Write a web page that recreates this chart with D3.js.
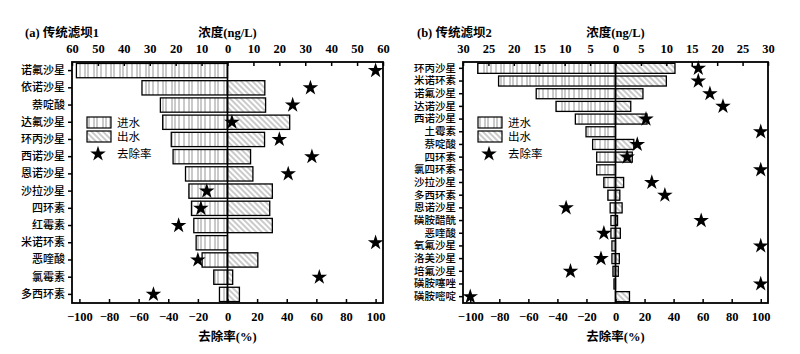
<!DOCTYPE html>
<html><head><meta charset="utf-8">
<script src="https://cdn.jsdelivr.net/npm/d3@7"></script>
<style>body{margin:0;background:#fff}svg{display:block}</style>
</head><body>
<svg id="c" width="800" height="354"></svg>
<script>
// ---------- data ----------
const catsA = ["诺氟沙星","依诺沙星","萘啶酸","达氟沙星","环丙沙星","西诺沙星","恩诺沙星","沙拉沙星","四环素","红霉素","米诺环素","恶喹酸","氯霉素","多西环素"];
const inA   = [58.3, 33.0, 25.9, 25.0, 21.7, 21.0, 16.2, 14.9, 13.9, 13.0, 12.1, 9.8, 5.3, 3.1];
const outA  = [0, 14.4, 14.7, 24.0, 14.3, 8.9, 9.8, 17.3, 16.3, 17.3, 0, 11.7, 2.0, 4.6];
const remA  = [100, 56, 44, 3, 35, 57, 41, -14, -18, -33, 100, -20, 62, -50];

const catsB = ["环丙沙星","米诺环素","诺氟沙星","达诺沙星","西诺沙星","土霉素","萘啶酸","四环素","氯四环素","沙拉沙星","多西环素","恩诺沙星","磺胺醋酰","恶喹酸","氧氟沙星","洛美沙星","培氟沙星","磺胺噻唑","磺胺嘧啶"];
const inB   = [27.1, 23.0, 15.6, 11.7, 7.9, 5.8, 4.5, 3.7, 3.7, 2.3, 1.5, 1.05, 0.9, 0.9, 0.7, 0.7, 0.5, 0.3, 0];
const outB  = [11.7, 10.0, 5.4, 3.0, 6.2, 0, 3.6, 3.3, 0, 1.6, 0.85, 1.3, 0.4, 0.95, 0, 0.75, 0.55, 0, 2.75];
const remB  = [57, 57, 65, 74, 21, 100, 15, 8, 100, 25, 34, -34, 59, -8, 100, -10, -31, 100, -100];

const concTicksA = [-60,-50,-40,-30,-20,-10,0,10,20,30,40,50,60];
const concTicksB = [-30,-25,-20,-15,-10,-5,0,5,10,15,20,25,30];
const remTicks = [-100,-80,-60,-40,-20,0,20,40,60,80,100];

const legendLabels = ["进水","出水","去除率"];

// ---------- drawing ----------
const svg = d3.select("#c");
const defs = svg.append("defs");
const pin = defs.append("pattern").attr("id","pin").attr("patternUnits","userSpaceOnUse")
  .attr("width",26).attr("height",10);
[2,7,10,16,19,23].forEach(x=>pin.append("line").attr("x1",x).attr("x2",x).attr("y1",0).attr("y2",10)
  .attr("stroke","#8a8a8a").attr("stroke-width",0.9));
const pout = defs.append("pattern").attr("id","pout").attr("patternUnits","userSpaceOnUse")
  .attr("width",4).attr("height",10).attr("patternTransform","rotate(-45)");
pout.append("line").attr("x1",1).attr("x2",1).attr("y1",0).attr("y2",10)
  .attr("stroke","#7a7a7a").attr("stroke-width",0.8);

const numFont = "'Liberation Serif','Times New Roman',serif";
const cjkFont = "'Noto Sans CJK SC','Noto Sans',sans-serif";

function panel(o){
  const g = svg.append("g");
  const x0 = o.left, x1 = o.right, y0 = 62, y1 = 303;
  const xc = d3.scaleLinear().domain([-o.cmax,o.cmax]).range([x0,x1]);
  const xr = d3.scaleLinear().domain([-105,105]).range([x0,x1]);
  const y = d3.scaleBand().domain(o.cats).range([y0,y1]).paddingInner(o.pad).paddingOuter(o.pad/2);

  // bars
  const rows = o.cats.map((c,i)=>({c, vin:o.vin[i], vout:o.vout[i], rem:o.rem[i]}));
  g.selectAll(".bin").data(rows.filter(d=>d.vin>0)).join("rect")
    .attr("x",d=>xc(-d.vin)).attr("y",d=>y(d.c)).attr("width",d=>xc(0)-xc(-d.vin)).attr("height",y.bandwidth())
    .attr("fill","url(#pin)").attr("stroke","#000").attr("stroke-width",1.3);
  g.selectAll(".bout").data(rows.filter(d=>d.vout>0)).join("rect")
    .attr("x",xc(0)).attr("y",d=>y(d.c)).attr("width",d=>xc(d.vout)-xc(0)).attr("height",y.bandwidth())
    .attr("fill","url(#pout)").attr("stroke","#000").attr("stroke-width",1.3);

  // zero line
  g.append("line").attr("x1",xc(0)).attr("x2",xc(0)).attr("y1",y0).attr("y2",y1)
    .attr("stroke","#000").attr("stroke-width",1.6);

  // stars
  g.selectAll(".st").data(rows).join("path")
    .attr("d",d3.symbol(d3.symbolStar,75))
    .attr("transform",d=>`translate(${xr(d.rem)},${y(d.c)+y.bandwidth()/2})`)
    .attr("fill","#000");

  // top axis
  const top = g.append("g").attr("transform",`translate(0,${y0})`)
    .call(d3.axisTop(xc).tickValues(o.cticks).tickFormat(d=>Math.abs(d)).tickSize(-4).tickPadding(9));
  // bottom axis
  const bot = g.append("g").attr("transform",`translate(0,${y1})`)
    .call(d3.axisBottom(xr).tickValues(remTicks).tickFormat(d=>d<0?"\u2212"+Math.abs(d):d).tickSize(-4).tickPadding(9));
  // left axis
  const lef = g.append("g").attr("transform",`translate(${x0},0)`)
    .call(d3.axisLeft(y).tickSize(4).tickPadding(3));
  [top,bot].forEach(a=>{a.select(".domain").remove();
    a.selectAll("text").attr("font-family",numFont).attr("font-weight","bold").attr("font-size",12.5).attr("fill","#000");
    a.selectAll("line").attr("stroke","#000").attr("stroke-width",1.5);});
  lef.select(".domain").remove();
  lef.selectAll("text").attr("font-family",cjkFont).attr("font-size",o.lfs).attr("font-weight",500).attr("fill","#000");
  lef.selectAll("line").attr("stroke","#000").attr("stroke-width",1.5);

  // frame
  g.append("rect").attr("x",x0).attr("y",y0).attr("width",x1-x0).attr("height",y1-y0)
    .attr("fill","none").attr("stroke","#000").attr("stroke-width",1.8);

  // titles
  const t = g.append("text").attr("x",o.tx).attr("y",37).attr("font-size",12.5).attr("font-weight","bold");
  t.append("tspan").attr("font-family",numFont).text(o.tag+" ");
  t.append("tspan").attr("font-family",cjkFont).text(o.title);
  t.append("tspan").attr("font-family",numFont).text(o.num);
  const ct = g.append("text").attr("x",xc(0)).attr("y",37).attr("text-anchor","middle").attr("font-size",12.5).attr("font-weight","bold");
  ct.append("tspan").attr("font-family",cjkFont).text("浓度");
  ct.append("tspan").attr("font-family",numFont).text("(ng/L)");
  const bt = g.append("text").attr("x",xc(0)).attr("y",341).attr("text-anchor","middle").attr("font-size",12.5).attr("font-weight","bold");
  bt.append("tspan").attr("font-family",cjkFont).text("去除率");
  bt.append("tspan").attr("font-family",numFont).text("(%)");

  // legend
  const lg = g.append("g").attr("transform",`translate(${o.lx},117)`);
  lg.append("rect").attr("x",0).attr("y",0).attr("width",24).attr("height",11)
    .attr("fill","url(#pin)").attr("stroke","#000").attr("stroke-width",1.2);
  lg.append("rect").attr("x",0).attr("y",14).attr("width",24).attr("height",11)
    .attr("fill","url(#pout)").attr("stroke","#000").attr("stroke-width",1.2);
  lg.append("path").attr("d",d3.symbol(d3.symbolStar,75)).attr("transform","translate(11,37)").attr("fill","#000");
  legendLabels.forEach((s,i)=>lg.append("text").attr("x",30).attr("y",[6,20,37][i]).attr("dy","0.36em")
    .attr("font-family",cjkFont).attr("font-size",11.5).text(s));
}

panel({cats:catsA, vin:inA, vout:outA, rem:remA, left:72, right:383, cmax:60, cticks:concTicksA,
  tag:"(a)", title:"传统滤坝", num:"1", tx:25, lx:87, lfs:11, pad:0.17});
panel({cats:catsB, vin:inB, vout:outB, rem:remB, left:463, right:768, cmax:30, cticks:concTicksB,
  tag:"(b)", title:"传统滤坝", num:"2", tx:417, lx:478, lfs:10.5, pad:0.21});
</script>
</body></html>
